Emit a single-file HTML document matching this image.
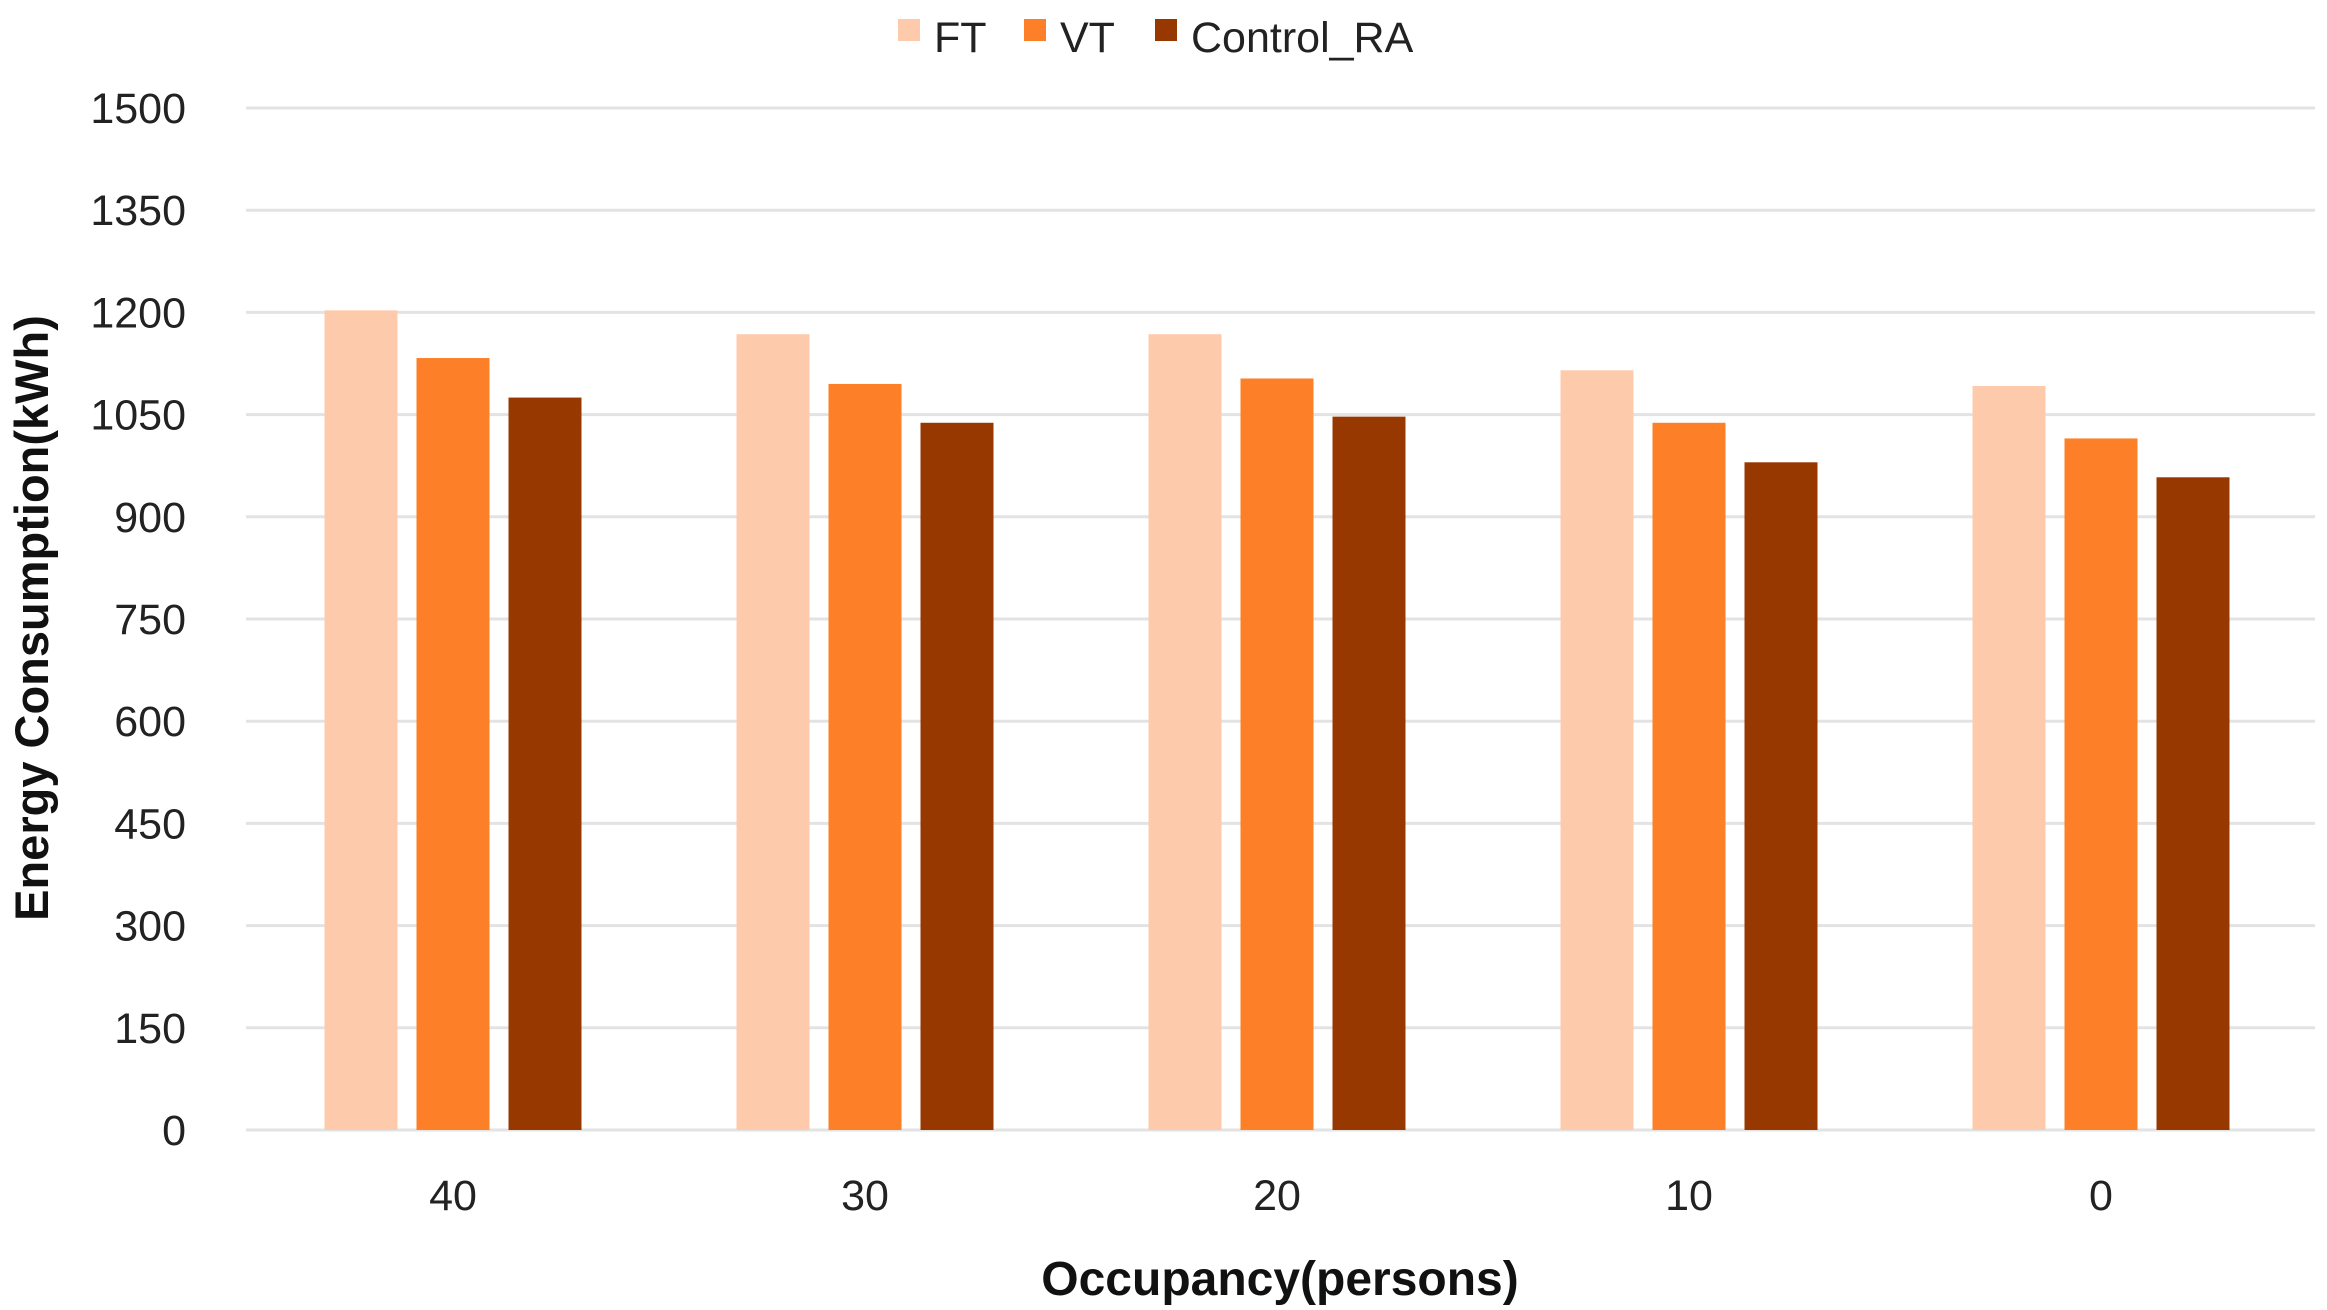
<!DOCTYPE html>
<html><head><meta charset="utf-8"><style>
html,body{margin:0;padding:0;background:#fff;}
svg{display:block;font-family:"Liberation Sans",sans-serif;}
</style></head><body>
<svg id="chart" width="2327" height="1310"></svg>
<script>
const categories=["40","30","20","10","0"];
const ftValues=[1203,1168,1168,1115,1092];
const vtValues=[1133,1095,1103,1038,1015];
const raValues=[1075,1038,1047,980,958];
const yTicks=[0,150,300,450,600,750,900,1050,1200,1350,1500];
const seriesNames=["FT","VT","Control_RA"];
const seriesColors=["#fdcbab","#fd7f27","#983801"];
const NS="http://www.w3.org/2000/svg";
const svg=document.getElementById('chart');
const plotL=246,plotR=2315,y0=1130,y1=108,yMax=1500;
const yScale=v=>y0-(v/yMax)*(y0-y1);
const groupW=412,firstC=453;
const xCenter=i=>firstC+i*groupW;
function mk(t,a){const e=document.createElementNS(NS,t);for(const k in a)e.setAttribute(k,a[k]);svg.appendChild(e);return e;}
yTicks.forEach(v=>{
 const l=mk('line',{x1:plotL,x2:plotR,y1:yScale(v),y2:yScale(v),stroke:'#e3e3e3','stroke-width':3});
 
 
 const t=mk('text',{x:186,y:yScale(v)+15,'text-anchor':'end','font-size':43,fill:'#222'});
 t.textContent=v;
 
 
});
const series=[ftValues,vtValues,raValues];
const barW=73,step=92;
categories.forEach((c,i)=>{
 series.forEach((vals,s)=>{
  const x=xCenter(i)+(s-1)*step-barW/2;
  const r=mk('rect',{x:x,y:yScale(vals[i]),width:barW,height:y0-yScale(vals[i]),fill:seriesColors[s]});
  
  
 });
 const t=mk('text',{x:xCenter(i),y:1210,'text-anchor':'middle','font-size':43,fill:'#222'});
 t.textContent=c;
 
 
});
const legX=[898,1024,1155];
seriesNames.forEach((n,s)=>{
 const r=mk('rect',{x:legX[s],y:19,width:22,height:22,fill:seriesColors[s]});
 
 
 const t=mk('text',{x:legX[s]+36,y:52,'font-size':43,fill:'#222'});
 t.textContent=n;
 
 
});
const xt=mk('text',{x:1280,y:1295,'text-anchor':'middle','font-size':48,'font-weight':'bold',fill:'#111'});
xt.textContent='Occupancy(persons)';


const yt=mk('text',{x:0,y:0,'text-anchor':'middle','font-size':47,'font-weight':'bold',fill:'#111',transform:'translate(48,618) rotate(-90)'});
yt.textContent='Energy Consumption(kWh)';


</script>
</body></html>
